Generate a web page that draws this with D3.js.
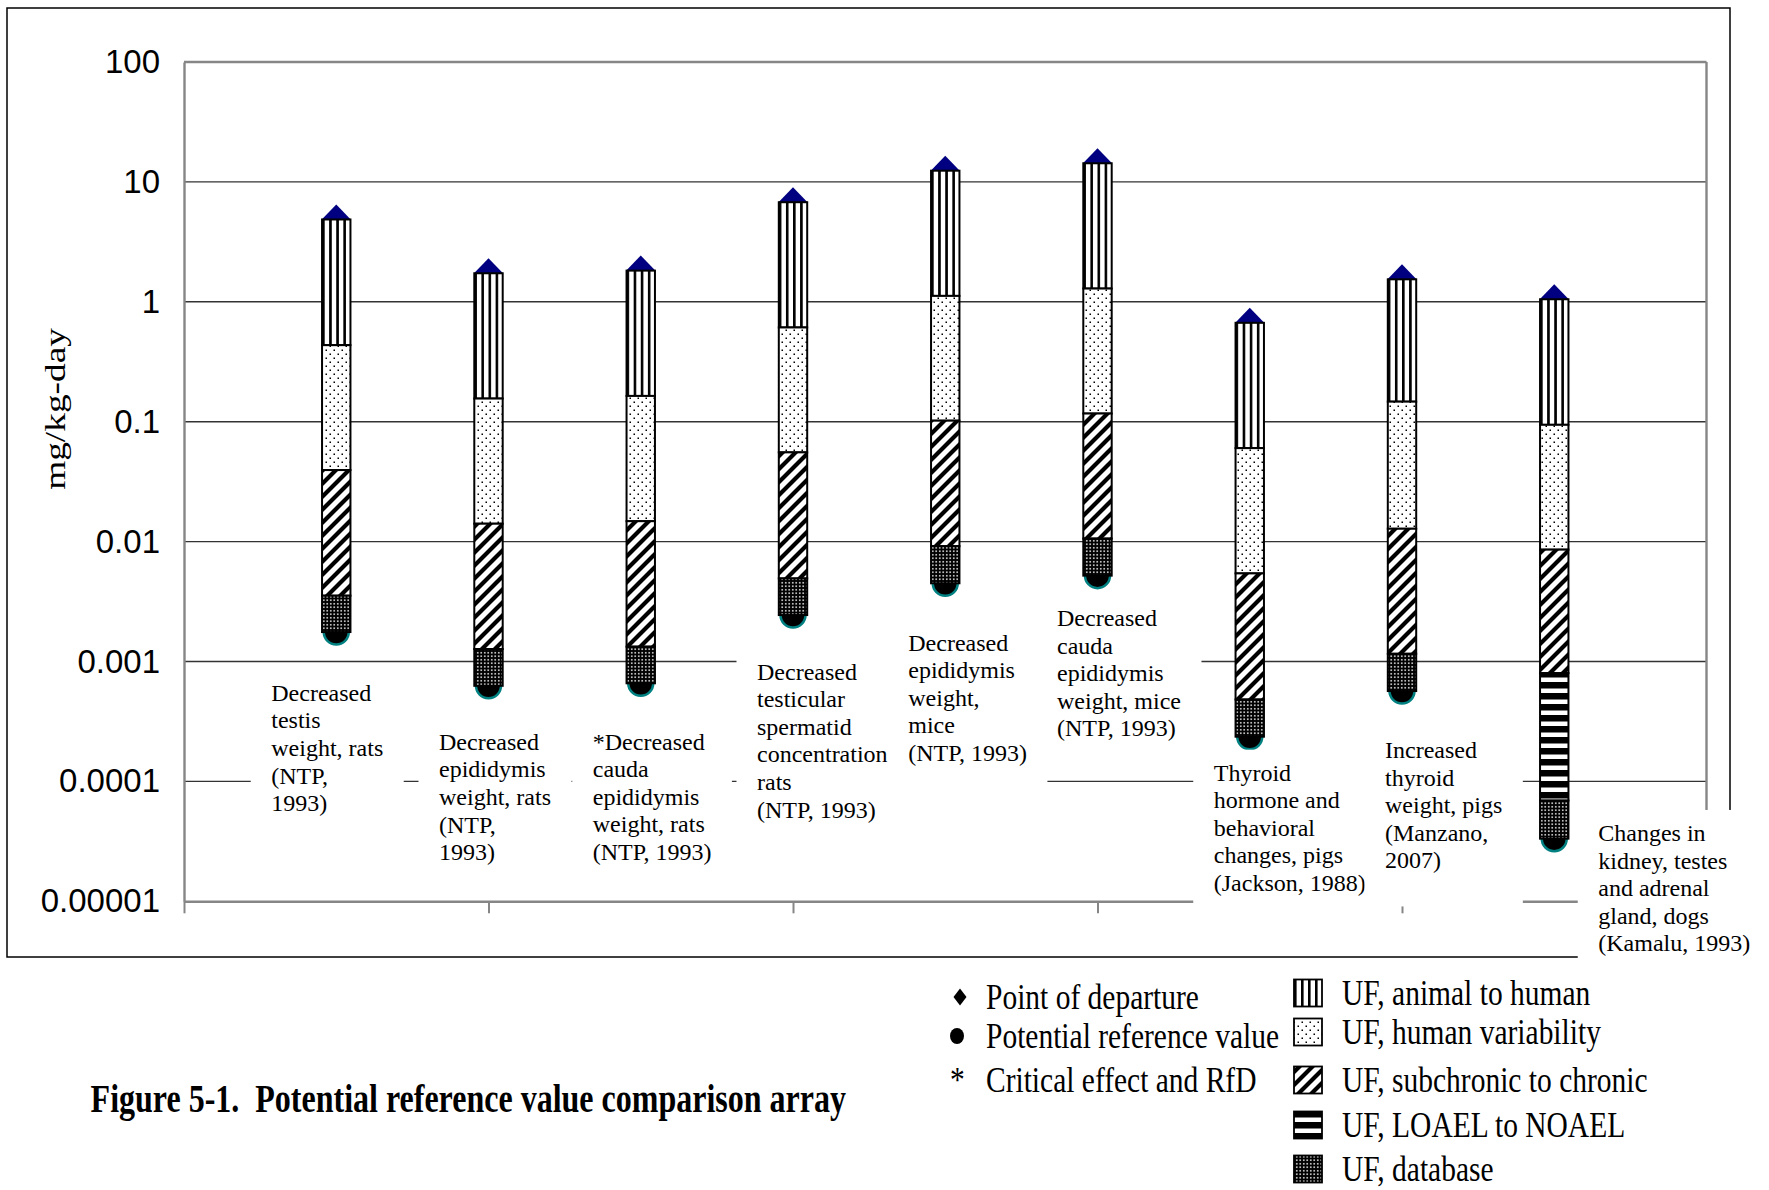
<!DOCTYPE html>
<html><head><meta charset="utf-8">
<script src="https://cdn.jsdelivr.net/npm/d3@7"></script>
<style>
html,body{margin:0;padding:0;background:#fff;}
svg{display:block;}
</style></head><body>
<svg id="chart" width="1769" height="1190"></svg>
<script>
// ---------------- DATA ----------------
const categories = [
  ["Decreased","testis","weight, rats","(NTP,","1993)"],
  ["Decreased","epididymis","weight, rats","(NTP,","1993)"],
  ["*Decreased","cauda","epididymis","weight, rats","(NTP, 1993)"],
  ["Decreased","testicular","spermatid","concentration","rats","(NTP, 1993)"],
  ["Decreased","epididymis","weight,","mice","(NTP, 1993)"],
  ["Decreased","cauda","epididymis","weight, mice","(NTP, 1993)"],
  ["Thyroid","hormone and","behavioral","changes, pigs","(Jackson, 1988)"],
  ["Increased","thyroid","weight, pigs","(Manzano,","2007)"],
  ["Changes in","kidney, testes","and adrenal","gland, dogs","(Kamalu, 1993)"]
];
const positions = [1,2,3,4,5,6,7,8,9];
// mg/kg-day: top of bar = point of departure, then lower bound of each UF segment
const pointOfDeparture      = [4.86, 1.73, 1.82, 6.77, 12.4, 14.3, 0.668, 1.54, 1.05];
const afterAnimalToHuman    = [0.435, 0.156, 0.164, 0.611, 1.12, 1.29, 0.0602, 0.147, 0.0942];
const afterHumanVariability = [0.0395, 0.0141, 0.0148, 0.0555, 0.102, 0.117, 0.00543, 0.0128, 0.00857];
const afterSubchronic       = [0.00354, 0.00127, 0.00133, 0.00493, 0.00916, 0.0106, 0.000482, 0.00116, 0.0008];
const afterLoael            = [0.00354, 0.00127, 0.00133, 0.00493, 0.00916, 0.0106, 0.000482, 0.00116, 0.0000692];
const referenceValue        = [0.00176, 0.000627, 0.000658, 0.00244, 0.00449, 0.0052, 0.000236, 0.000567, 0.0000333];

const yTickValues = [100, 10, 1, 0.1, 0.01, 0.001, 0.0001, 0.00001];
const yTickLabels = ["100","10","1","0.1","0.01","0.001","0.0001","0.00001"];
const xTickValues = [0, 2, 4, 6, 8, 10];
const yTitle = "mg/kg-day";
const legendMarkerLabels = ["Point of departure","Potential reference value","Critical effect and RfD"];
const legendPatternLabels = ["UF, animal to human","UF, human variability","UF, subchronic to chronic","UF, LOAEL to NOAEL","UF, database"];
const title = "Figure 5-1.  Potential reference value comparison array";

// ---------------- LAYOUT ----------------
const labelDx = [-65, -49.5, -48, -36, -37, -40.5, -36, -17, 44];   // text left relative to bar centre
const labelDy = [60.7, 55.9, 58.4, 56.6, 59.4, 42.3, 36, 59, -5.7]; // first line centre relative to bar bottom
const serif = "'Liberation Serif','Times New Roman',serif";
const sans = "'Liberation Sans',Arial,sans-serif";

const svg = d3.select("#chart");
const x = d3.scaleLinear().domain([0, 10]).range([184, 1706.5]);
const y = d3.scaleLog().domain([1e-5, 100]).range([901.3, 62]);
const barW = 28.4;

// ---------------- PATTERNS ----------------
const defs = svg.append("defs");
const pVert = defs.append("pattern").attr("id","pVert")
  .attr("patternUnits","objectBoundingBox").attr("width",0.25).attr("height",1);
pVert.append("rect").attr("width",50).attr("height",4000).attr("fill","#fff");
pVert.append("rect").attr("width",2.6).attr("height",4000).attr("fill","#000");

const pDots = defs.append("pattern").attr("id","pDots")
  .attr("patternUnits","userSpaceOnUse").attr("width",8).attr("height",8);
pDots.append("rect").attr("width",8).attr("height",8).attr("fill","#fff");
pDots.append("rect").attr("x",1.5).attr("y",1.5).attr("width",1.5).attr("height",1.5).attr("fill","#000");
pDots.append("rect").attr("x",5.5).attr("y",5.5).attr("width",1.5).attr("height",1.5).attr("fill","#000");

const pDiag = defs.append("pattern").attr("id","pDiag")
  .attr("patternUnits","userSpaceOnUse").attr("width",13).attr("height",13);
pDiag.append("rect").attr("width",13).attr("height",13).attr("fill","#fff");
pDiag.append("path").attr("d","M0,13L13,0M-3.25,3.25L3.25,-3.25M9.75,16.25L16.25,9.75")
  .attr("stroke","#000").attr("stroke-width",4.2);

const pHoriz = defs.append("pattern").attr("id","pHoriz")
  .attr("patternUnits","userSpaceOnUse").attr("width",10).attr("height",11);
pHoriz.append("rect").attr("width",10).attr("height",11).attr("fill","#fff");
pHoriz.append("rect").attr("width",10).attr("height",6.5).attr("fill","#000");

const pDense = defs.append("pattern").attr("id","pDense")
  .attr("patternUnits","userSpaceOnUse").attr("width",3.5).attr("height",3.5);
pDense.append("rect").attr("width",3.5).attr("height",3.5).attr("fill","#000");
pDense.append("rect").attr("x",1).attr("y",1).attr("width",1.5).attr("height",1.5).attr("fill","#fff");

const patternIds = ["pVert","pDots","pDiag","pHoriz","pDense"];

// ---------------- FRAME / AXES ----------------
svg.append("rect").attr("x",7).attr("y",8).attr("width",1723).attr("height",949)
  .attr("fill","none").attr("stroke","#000").attr("stroke-width",1.5);

svg.append("g").selectAll("line").data(yTickValues.filter(v => v < 100 && v > 1e-5)).join("line")
  .attr("x1", x(0)).attr("x2", x(10)).attr("y1", d => y(d)).attr("y2", d => y(d))
  .attr("stroke","#333").attr("stroke-width",1.4);

// top and right frame of plot area
svg.append("line").attr("x1",x(0)).attr("x2",x(10)).attr("y1",y(100)).attr("y2",y(100))
  .attr("stroke","#868686").attr("stroke-width",2.4);
svg.append("line").attr("x1",x(10)).attr("x2",x(10)).attr("y1",y(100)).attr("y2",y(1e-5))
  .attr("stroke","#868686").attr("stroke-width",2.4);

const yAxis = svg.append("g").attr("transform",`translate(${x(0)},0)`)
  .call(d3.axisLeft(y).tickValues(yTickValues).tickFormat((d,i) => yTickLabels[i])
    .tickSize(0).tickSizeOuter(0).tickPadding(24));
yAxis.select(".domain").attr("stroke","#868686").attr("stroke-width",2.4);
yAxis.selectAll("text").attr("font-family",sans).attr("font-size",33).attr("fill","#000");

const xAxis = svg.append("g").attr("transform",`translate(0,${y(1e-5)})`)
  .call(d3.axisBottom(x).tickValues(xTickValues).tickFormat(() => "").tickSize(12).tickSizeOuter(0));
xAxis.select(".domain").attr("stroke","#868686").attr("stroke-width",2.4);
xAxis.selectAll(".tick line").attr("stroke","#868686").attr("stroke-width",2);

// ---------------- MARKERS (under bars) ----------------
svg.append("g").selectAll("path").data(positions).join("path")
  .attr("d", (p,i) => {
    const cx = x(p), cy = y(pointOfDeparture[i]);
    return `M${cx},${cy-15}L${cx+14.5},${cy}L${cx},${cy+15}L${cx-14.5},${cy}Z`;
  })
  .attr("fill","#000080");
svg.append("g").selectAll("circle").data(positions).join("circle")
  .attr("cx", p => x(p)).attr("cy", (p,i) => y(referenceValue[i])).attr("r",12.5)
  .attr("fill","#000").attr("stroke","#008080").attr("stroke-width",2.5);

// ---------------- BARS ----------------
const bounds = [pointOfDeparture, afterAnimalToHuman, afterHumanVariability, afterSubchronic, afterLoael, referenceValue];
const segments = [];
positions.forEach((p,i) => {
  for (let s = 0; s < 5; s++) {
    const top = bounds[s][i], bottom = bounds[s+1][i];
    if (top > bottom) segments.push({p, top, bottom, pat: patternIds[s]});
  }
});
svg.append("g").selectAll("rect").data(segments).join("rect")
  .attr("x", d => x(d.p) - barW/2).attr("width", barW)
  .attr("y", d => y(d.top)).attr("height", d => y(d.bottom) - y(d.top))
  .attr("fill", d => `url(#${d.pat})`).attr("stroke","#000").attr("stroke-width",2);

// ---------------- DATA LABELS ----------------
const lineH = 27.6;
positions.forEach((p,i) => {
  const left = x(p) + labelDx[i];
  const firstC = y(referenceValue[i]) + labelDy[i];
  const g = svg.append("g");
  const box = g.append("rect").attr("fill","#fff");
  const t = g.append("text").attr("font-family",serif).attr("font-size",24).attr("fill","#000");
  categories[i].forEach((ln,k) => {
    t.append("tspan").attr("x",left).attr("y",firstC + k*lineH + 8).text(ln);
  });
  let maxW = 0;
  t.selectAll("tspan").each(function(){ maxW = Math.max(maxW, this.getComputedTextLength()); });
  const n = categories[i].length;
  box.attr("x", left - 20.5).attr("width", maxW + 41)
     .attr("y", firstC - 23).attr("height", (n-1)*lineH + 23 + 46);
});

// ---------------- AXIS TITLE ----------------
svg.append("text").attr("transform","translate(65,409) rotate(-90) scale(1.245,1)")
  .attr("text-anchor","middle").attr("font-family",serif).attr("font-size",30).text(yTitle);

// ---------------- LEGEND ----------------
const leftRowsC = [997, 1036, 1080];
const rightRowsC = [993, 1032, 1080, 1125, 1169];
const legFont = 29.5, legScale = 1.18;
const lg = svg.append("g");
lg.append("path").attr("d",`M960,${leftRowsC[0]-8.5}L966.5,${leftRowsC[0]}L960,${leftRowsC[0]+8.5}L953.5,${leftRowsC[0]}Z`).attr("fill","#000");
lg.append("ellipse").attr("cx",957).attr("cy",leftRowsC[1]).attr("rx",7).attr("ry",8).attr("fill","#000");
lg.append("text").attr("transform",`translate(950,${leftRowsC[2]+12}) scale(1,${legScale})`)
  .attr("font-family",serif).attr("font-size",legFont).text("*");
legendMarkerLabels.forEach((s,k) => {
  lg.append("text").attr("transform",`translate(986,${leftRowsC[k]+11.5}) scale(1,${legScale})`)
    .attr("font-family",serif).attr("font-size",legFont).text(s);
});
legendPatternLabels.forEach((s,k) => {
  lg.append("rect").attr("x",1294).attr("y",rightRowsC[k]-13.5).attr("width",28).attr("height",27)
    .attr("fill",`url(#${patternIds[k]})`).attr("stroke","#000").attr("stroke-width",1.8);
  lg.append("text").attr("transform",`translate(1342,${rightRowsC[k]+11.5}) scale(1,${legScale})`)
    .attr("font-family",serif).attr("font-size",legFont).text(s);
});

// ---------------- TITLE ----------------
svg.append("text").attr("transform","translate(90.6,1112) scale(1,1.25)")
  .attr("font-family",serif).attr("font-weight","bold").attr("font-size",32)
  .style("white-space","pre").text(title);
</script>
</body></html>
